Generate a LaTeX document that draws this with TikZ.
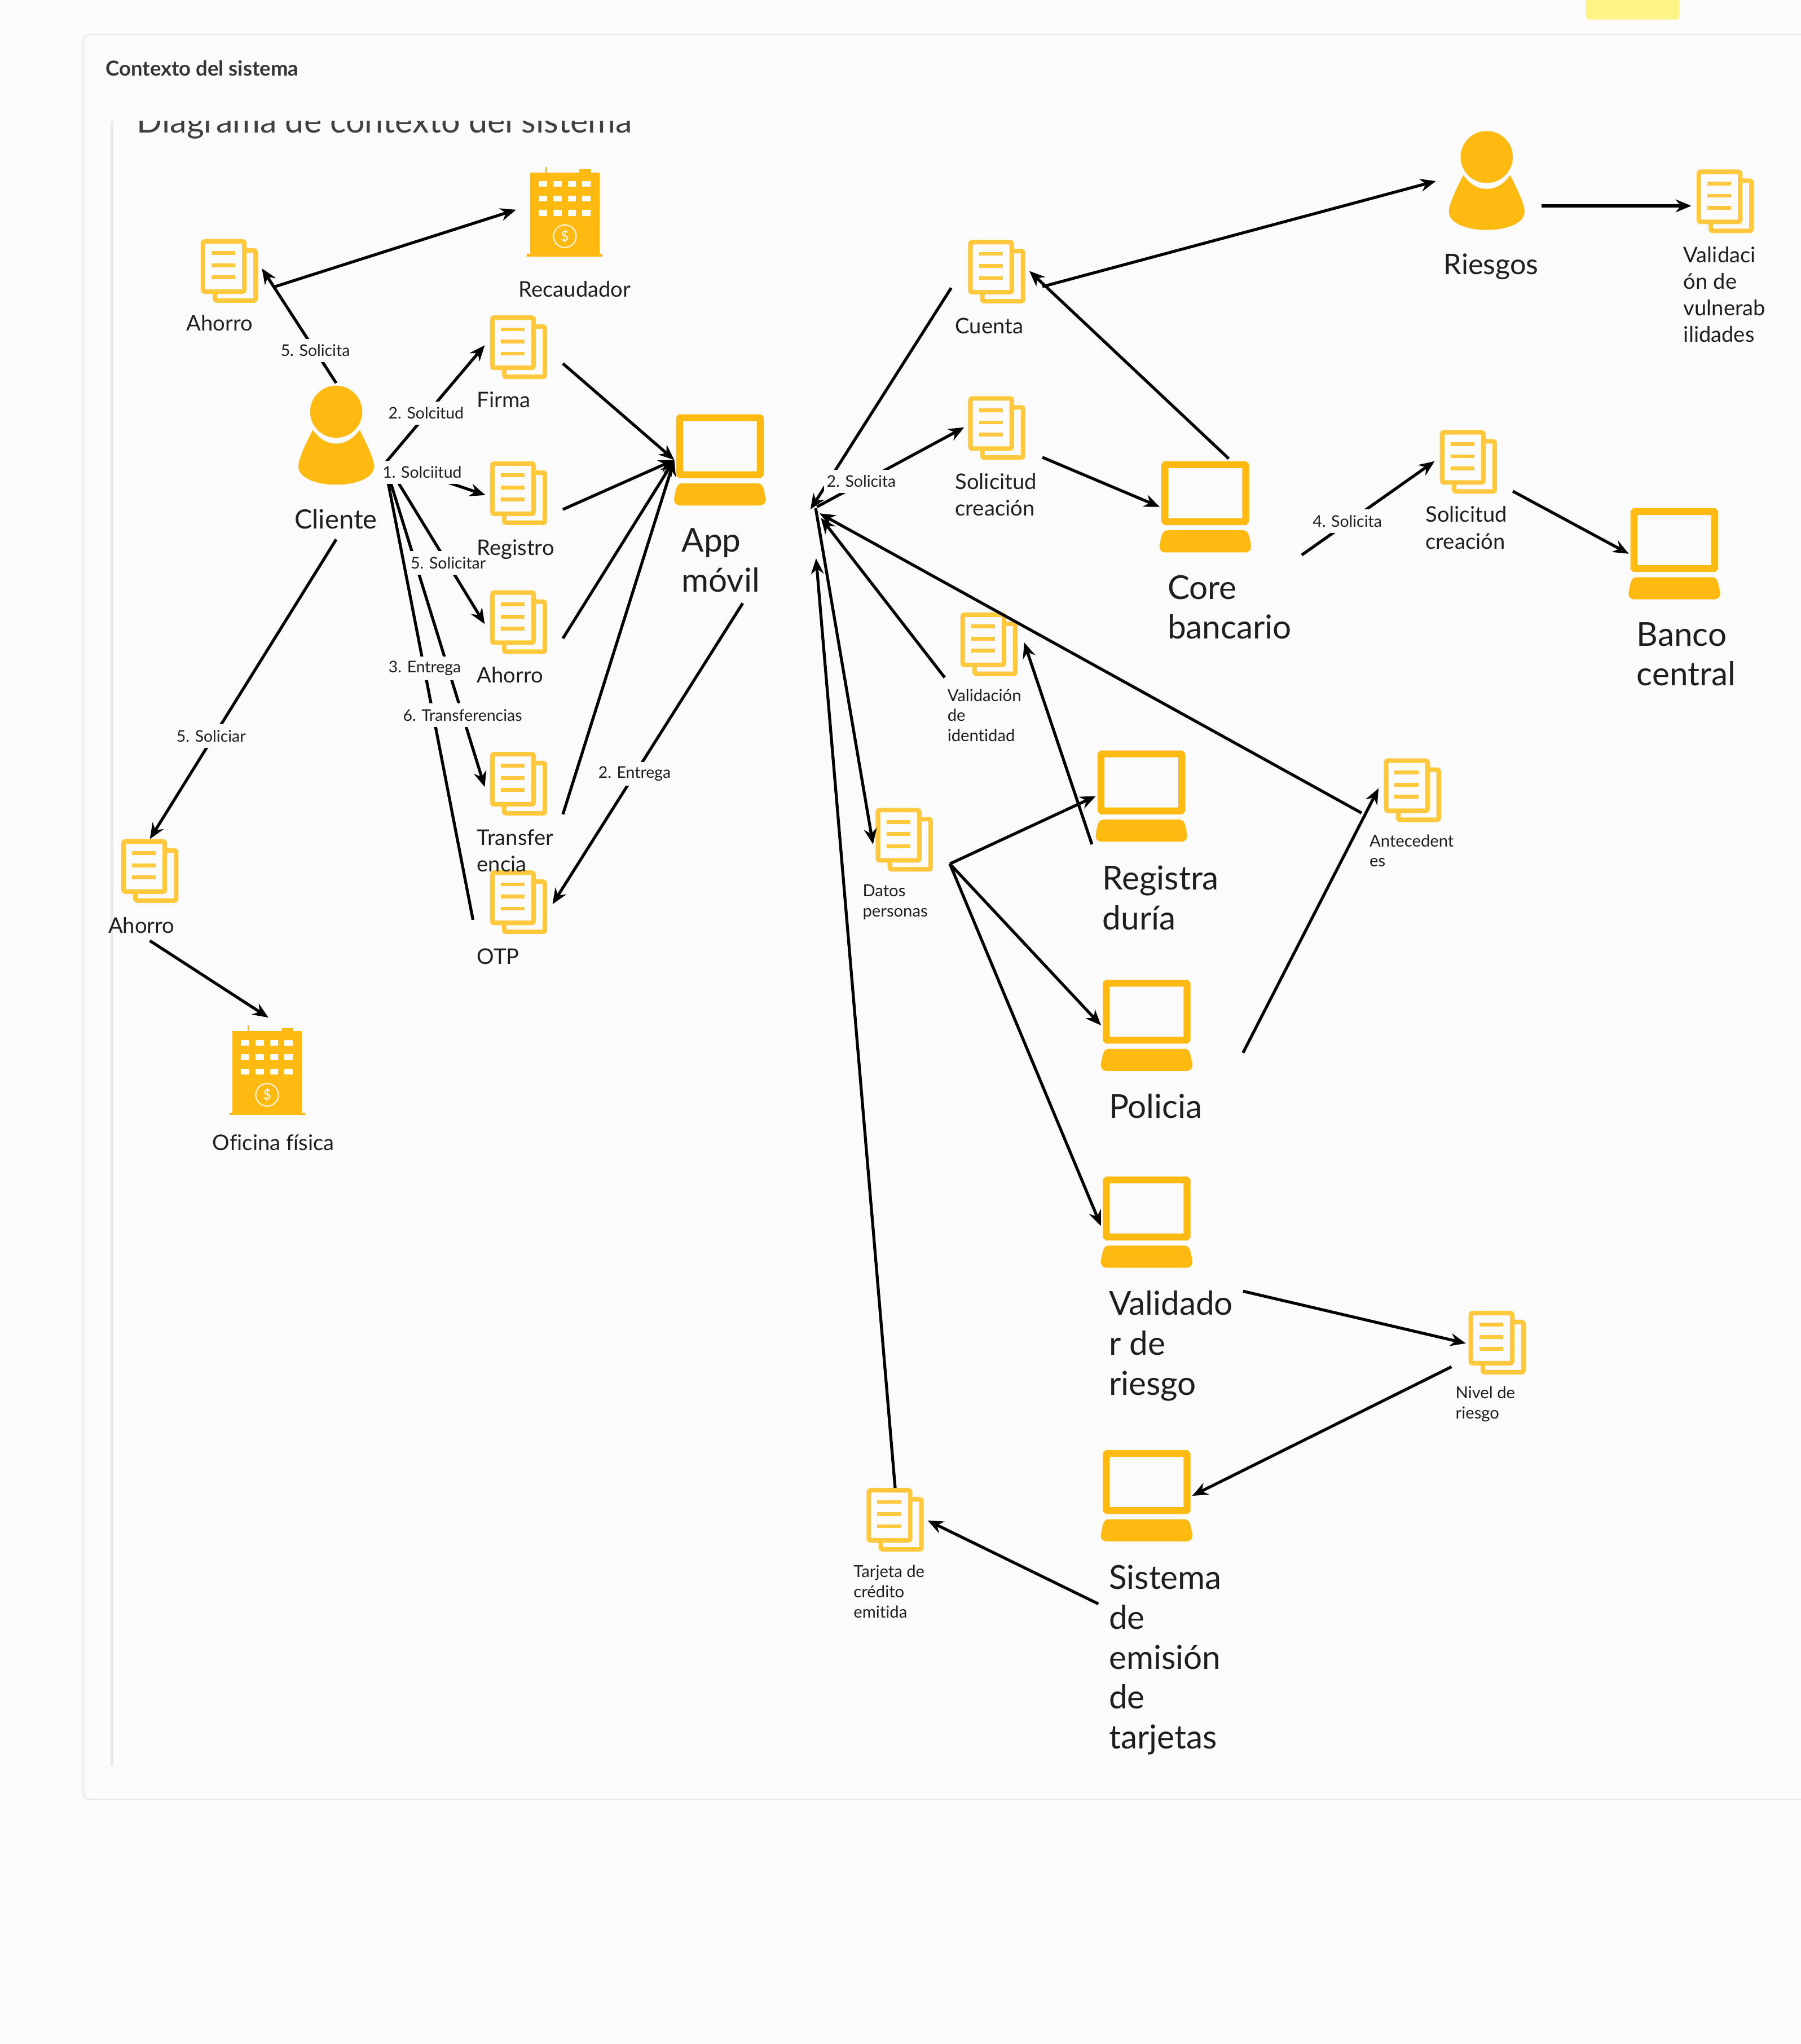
\documentclass[tikz,border=0pt]{standalone}
\usepackage{fontspec}
\setmainfont{Lato}[Ligatures=NoCommon]
\usetikzlibrary{arrows.meta, positioning}
\definecolor{iconcolor}{RGB}{255, 186, 18}
\definecolor{doccolor}{RGB}{255, 200, 61}
\definecolor{pagecolor}{RGB}{251, 251, 251}
\definecolor{framecolor}{RGB}{232, 232, 232}
\definecolor{textcolor}{RGB}{30, 30, 30}
\definecolor{notecolor}{RGB}{254, 243, 133}
\tikzset{
    conn/.style={line width=3.2pt, -{Stealth[length=17pt, width=14pt]}},
    plainconn/.style={line width=3.2pt},
    docbox/.style={minimum width=22mm, minimum height=24.5mm, inner sep=0pt, outer sep=0pt},
    lapbox/.style={minimum width=35mm, minimum height=35mm, inner sep=0pt, outer sep=0pt},
    personbox/.style={minimum width=29mm, minimum height=38mm, inner sep=0pt, outer sep=0pt},
    bankbox/.style={minimum width=28.5mm, minimum height=34mm, inner sep=0pt, outer sep=0pt},
    biglabel/.style={anchor=west, align=left, inner sep=0pt, text=textcolor, font=\fontsize{36}{43.5}\selectfont},
    midlabel/.style={anchor=west, align=left, inner sep=0pt, text=textcolor, font=\fontsize{23.5}{29}\selectfont},
    smalllabel/.style={anchor=west, align=left, inner sep=0pt, text=textcolor, font=\fontsize{18}{22}\selectfont},
    connlabel/.style={fill=pagecolor, inner xsep=3pt, inner ysep=0pt, minimum height=9mm, text=textcolor, font=\fontsize{17.5}{21}\selectfont},
    doc/.pic={
        \draw[doccolor, line width=5pt, rounded corners=2pt] (-20.2,-22.7) rectangle (11.5,15.8);
        \draw[doccolor, line width=5pt, rounded corners=2pt] (13,-15.8) -- (20.2,-15.8) -- (20.2,22.7) -- (-11,22.7) -- (-11,17);
        \foreach \liney in {-13.7,-4.3,4.9}
            \draw[doccolor, line width=4.2pt] (-13.7,\liney) -- (4.6,\liney);
    },
    laptop/.pic={
        \draw[iconcolor, line width=7.5pt, rounded corners=1pt] (-31,-32.4) rectangle (31,11.4);
        \fill[iconcolor] (-29,18) -- (29,18) .. controls (32,18) and (33,20) .. (34,24)
            -- (35,29) .. controls (35.5,33) and (34,35) .. (30,35) -- (-30,35)
            .. controls (-34,35) and (-35.5,33) .. (-35,29) -- (-34,24)
            .. controls (-33,20) and (-32,18) .. (-29,18) -- cycle;
    },
    person/.pic={
        \fill[iconcolor] (0,-18) circle (20);
        \fill[iconcolor] (-18,-4) .. controls (-24,8) and (-29,18) .. (-29,24)
            .. controls (-29,33) and (-15,38) .. (0,38)
            .. controls (15,38) and (29,33) .. (29,24)
            .. controls (29,18) and (24,8) .. (18,-4)
            .. controls (12,4) and (6,6.5) .. (0,6.5)
            .. controls (-6,6.5) and (-12,4) .. (-18,-4) -- cycle;
    },
    bank/.pic={
        \fill[iconcolor] (-26.5,-29.6) rectangle (26.5,33);
        \fill[iconcolor] (-29,33) rectangle (29,34.8);
        \fill[iconcolor] (-15,-34) rectangle (-13.5,-29);
        \fill[iconcolor] (11,-32) rectangle (20,-29);
        \foreach \rowy in {-20.7,-9.7,1.4}
            \foreach \colx in {-16.9,-5.7,5.4,16.5}
                \fill[white] (\colx-3.2,\rowy-2.2) rectangle (\colx+3.2,\rowy+2.2);
        \draw[white!85!iconcolor, line width=1.3pt] (0,19.3) circle (8.7);
        \node[text=white, inner sep=0pt, font=\fontsize{15}{15}\selectfont] at (0,19.3) {\$};
    },
}
\begin{document}
\begin{tikzpicture}[x=0.5mm, y=-0.5mm]
    % page and frame
    \useasboundingbox (0,0) rectangle (1382.2,1568.8);
    \fill[pagecolor] (0,0) rectangle (1382.2,1568.8);
    \fill[notecolor, rounded corners=4pt] (1217,-10) rectangle (1289,15);
    \begin{scope}
        \clip (0,0) rectangle (1382.2,1568.8);
        \draw[framecolor, line width=1.5pt, rounded corners=7pt] (64,26.5) rectangle (1420,1381);
    \end{scope}
    \fill[framecolor] (85,93) rectangle (87,1356);

    % titles
    \node[anchor=west, inner sep=0pt, text=textcolor!90, font=\fontsize{22.5}{27}\selectfont\bfseries] (frametitle) at (81,52.5) {Contexto del sistema};
    \begin{scope}
        \clip (90,93) rectangle (600,120);
        \node[anchor=west, inner sep=0pt, text=black!75, font=\fontsize{36.5}{42}\selectfont] (difftitle) at (105,95) {Diagrama de contexto del sistema};
    \end{scope}

    % left side
    \path (176,208) pic {doc} node[docbox] (ahorroa) {};
    \path (433.5,162) pic {bank} node[bankbox] (recaudador) {};
    \path (258,334) pic {person} node[personbox] (cliente) {};
    \path (398,266.5) pic {doc} node[docbox] (firma) {};
    \path (398,378.5) pic {doc} node[docbox] (registro) {};
    \path (398,477.5) pic {doc} node[docbox] (ahorrob) {};
    \path (398,601.5) pic {doc} node[docbox] (transfer) {};
    \path (398,692.5) pic {doc} node[docbox] (otp) {};
    \path (552.5,353) pic {laptop} node[lapbox] (app) {};
    \path (115,668.5) pic {doc} node[docbox] (ahorroc) {};
    \path (205,821) pic {bank} node[bankbox] (oficina) {};

    % right side
    \path (765,208.5) pic {doc} node[docbox] (cuenta) {};
    \path (765,328.5) pic {doc} node[docbox] (solcrea) {};
    \path (925,389) pic {laptop} node[lapbox] (core) {};
    \path (1141,138.5) pic {person} node[personbox] (riesgos) {};
    \path (1324,154.5) pic {doc} node[docbox] (validaci) {};
    \path (1127,354.5) pic {doc} node[docbox] (solcreb) {};
    \path (1285,425) pic {laptop} node[lapbox] (banco) {};
    \path (759,494.5) pic {doc} node[docbox] (validid) {};
    \path (694,644.5) pic {doc} node[docbox] (datos) {};
    \path (876,611) pic {laptop} node[lapbox] (regis) {};
    \path (880,787) pic {laptop} node[lapbox] (policia) {};
    \path (880,938) pic {laptop} node[lapbox] (validador) {};
    \path (1084,606.5) pic {doc} node[docbox] (antec) {};
    \path (1149,1030.5) pic {doc} node[docbox] (nivel) {};
    \path (880,1148) pic {laptop} node[lapbox] (sistema) {};
    \path (687,1166.5) pic {doc} node[docbox] (tarjeta) {};
    \coordinate (hub) at (622,391);

    % icon labels
    \node[midlabel] (tahorroa) at (143,248) {Ahorro};
    \node[midlabel] (trecaudador) at (398,222) {Recaudador};
    \node[midlabel] (tfirma) at (366,307) {Firma};
    \node[midlabel] (tahorrob) at (366,518) {Ahorro};
    \node[midlabel] (ttransfer) at (366,653) {Transfer\\encia};
    \node[midlabel] (totp) at (366,734) {OTP};
    \node[midlabel] (tahorroc) at (83,710) {Ahorro};
    \node[midlabel] (toficina) at (163,877) {Oficina física};
    \node[midlabel] (tcuenta) at (733,250) {Cuenta};
    \node[midlabel] (tsolcrea) at (733,379.5) {Solicitud\\creación};
    \node[midlabel] (tsolcreb) at (1094,405) {Solicitud\\creación};
    \node[midlabel, font=\fontsize{31}{34}\selectfont] (triesgos) at (1108,204.5) {Riesgos};
    \node[midlabel] (tvalidaci) at (1292,226) {Validaci\\ón de\\vulnerab\\ilidades};
    \node[smalllabel] (tvalidid) at (727,549) {Validación\\de\\identidad};
    \node[smalllabel] (tdatos) at (662,692.5) {Datos\\personas};
    \node[smalllabel] (tantec) at (1051,653) {Antecedent\\es};
    \node[smalllabel] (tnivel) at (1117,1077.5) {Nivel de\\riesgo};
    \node[smalllabel] (ttarjeta) at (655,1221.5) {Tarjeta de\\crédito\\emitida};
    \node[biglabel, font=\fontsize{29}{34}\selectfont] (tcliente) at (226,398.5) {Cliente};
    \node[biglabel] (tapp) at (523,430) {App\\móvil};
    \node[biglabel] (tcore) at (896,466) {Core\\bancario};
    \node[biglabel] (tbanco) at (1256,502) {Banco\\central};
    \node[biglabel] (tregis) at (846,689) {Registra\\duría};
    \node[biglabel] (tpolicia) at (851,849) {Policia};
    \node[biglabel] (tvalidador) at (851,1033) {Validado\\r de\\riesgo};
    \node[biglabel] (tsistema) at (851,1274) {Sistema\\de\\emisión\\de\\tarjetas};

    % connectors left
    \draw[conn] ([shift={(35,12)}]ahorroa.center) -- ([shift={(-37.5,-1)}]recaudador.center);
    \draw[conn] ([shift={(0,-40)}]cliente.center) -- ([shift={(25,-2)}]ahorroa.center);
    \draw[conn] ([shift={(38,21)}]cliente.center) -- ([shift={(-26,-1.5)}]firma.center);
    \draw[conn] ([shift={(38,20)}]cliente.center) -- ([shift={(-25.5,1.5)}]registro.center);
    \draw[conn] ([shift={(48,37)}]cliente.center) -- ([shift={(-26,1.5)}]ahorrob.center);
    \draw[conn] ([shift={(42,37)}]cliente.center) -- ([shift={(-26,2.5)}]transfer.center);
    \draw[plainconn] ([shift={(40,37)}]cliente.center) -- ([shift={(-35,13.5)}]otp.center);
    \draw[conn] ([shift={(34,12.5)}]firma.center) -- (app.west);
    \draw[conn] ([shift={(34,12.5)}]registro.center) -- (app.west);
    \draw[conn] ([shift={(34,12.5)}]ahorrob.center) -- (app.west);
    \draw[conn] ([shift={(34,23.5)}]transfer.center) -- (app.west);
    \draw[conn] ([shift={(17.5,110)}]app.center) -- ([shift={(26,1.5)}]otp.center);
    \draw[conn] ([shift={(0,80)}]cliente.center) -- (ahorroc.north);
    \draw[conn] ([shift={(0,53.5)}]ahorroc.center) -- ([shift={(1,-40)}]oficina.center);

    % connectors right
    \draw[conn] ([shift={(-35,12.5)}]cuenta.center) -- (hub);
    \draw[conn] ([shift={(5,-2)}]hub) -- ([shift={(-25,-0.5)}]solcrea.center);
    \draw[conn] ([shift={(35,22.5)}]solcrea.center) -- (core.west);
    \draw[conn] ([shift={(18,-37)}]core.center) -- ([shift={(25,-0.5)}]cuenta.center);
    \draw[conn] ([shift={(35,11.5)}]cuenta.center) -- ([shift={(-39,0.5)}]riesgos.center);
    \draw[conn] ([shift={(42,19.5)}]riesgos.center) -- ([shift={(-26,3.5)}]validaci.center);
    \draw[conn] ([shift={(74,37)}]core.center) -- ([shift={(-26,-0.5)}]solcreb.center);
    \draw[conn] ([shift={(34,22.5)}]solcreb.center) -- (banco.west);
    \draw[conn] ([shift={(4,-1)}]hub) -- ([shift={(-24,3.5)}]datos.center);
    \draw[conn] ([shift={(-34,25.5)}]validid.center) -- ([shift={(8,6.5)}]hub);
    \draw[conn] ([shift={(-39,17.5)}]antec.center) -- ([shift={(7,3)}]hub);
    \draw[conn] (tarjeta.north) -- ([shift={(4.3,37.6)}]hub);
    \draw[conn] ([shift={(35,18.5)}]datos.center) -- (regis.west);
    \draw[conn] ([shift={(35,18.5)}]datos.center) -- (policia.west);
    \draw[conn] ([shift={(35,18.5)}]datos.center) -- ([shift={(-35,3)}]validador.center);
    \draw[conn] ([shift={(-38,37)}]regis.center) -- ([shift={(27,-1.5)}]validid.center);
    \draw[conn] ([shift={(74,21)}]policia.center) -- ([shift={(-26,-1.5)}]antec.center);
    \draw[conn] ([shift={(74,53)}]validador.center) -- ([shift={(-24,0.5)}]nivel.center);
    \draw[conn] ([shift={(-35,18.5)}]nivel.center) -- (sistema.east);
    \draw[conn] ([shift={(-37,83)}]sistema.center) -- ([shift={(25,0.5)}]tarjeta.center);

    % connector labels
    \node[connlabel] (lsolicita) at (242,269) {5. Solicita};
    \node[connlabel] (lfirma) at (327,317) {2. Solcitud};
    \node[connlabel] (lregistro) at (324,362.5) {1. Solciitud};
    \node[connlabel] (lentrega) at (326,513) {3. Entrega};
    \node[connlabel] (ltransfer) at (355,549) {6. Transferencias};
    \node[connlabel] (lsolicitar) at (344,432) {5. Solicitar};
    \node[connlabel] (lsoliciar) at (162,565) {5. Soliciar};
    \node[connlabel] (lotp) at (487,594) {2. Entrega};
    \node[connlabel] (lsolcrea) at (661,369.5) {2. Solicita};
    \node[connlabel] (lsolcreb) at (1034,400) {4. Solicita};

    % this one stays on top of the label under it
    \node[midlabel] (tregistro) at (366,421.5) {Registro};
\end{tikzpicture}
\end{document}
